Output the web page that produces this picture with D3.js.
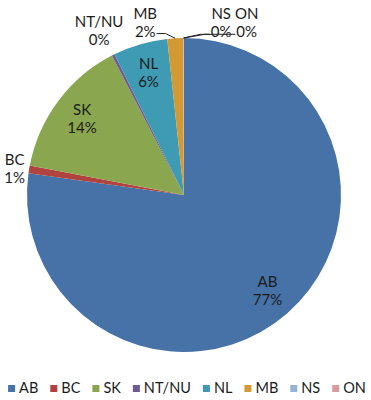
<!DOCTYPE html>
<html>
<head>
<meta charset="utf-8">
<script src="https://cdn.jsdelivr.net/npm/d3@7"></script>
<style>
 body { margin:0; background:#fff; }
 svg text { font-family:"Lato", sans-serif; fill:#1c1c1c; }
</style>
</head>
<body>
<div class="chart"></div>
<script>
 // shares by province (percent of total)
 var categories = ["AB","BC","SK","NT/NU","NL","MB","NS","ON"];
 var shares = [77.2, 0.8, 14.4, 0.3, 5.6, 1.6, 0.05, 0.05];
 var colors = ["#4672A7","#B0433F","#8AA64F","#6E5B95","#3F9AB3","#D39A34","#94B2D6","#D69B9A"];

 // labels that sit outside the pie, nudged like the original
 var outside = {
   "BC":    {r:1.1,  dx:1,   dy:2},
   "NT/NU": {r:1.1,  dx:-7,  dy:-10},
   "MB":    {r:1.1,  dx:-29, dy:0,  lead:"right"},
   "NS":    {r:1.1,  dx:38,  dy:1,  lead:"left"},
   "ON":    {r:1.1,  dx:63,  dy:1,  lead:"left"}
 };

 var W = 371, H = 400, cx = 184, cy = 195, R = 157;

 var svg = d3.select(".chart").append("svg")
     .attr("width", W)
     .attr("height", H);

 var total = d3.sum(shares);
 var pie = d3.pie().sort(null).value(function(d){ return d; });
 var arcs = pie(shares);
 var arc = d3.arc().innerRadius(0).outerRadius(R);

 var g = svg.append("g").attr("transform", "translate(" + cx + "," + cy + ")");

 g.selectAll("path.slice")
   .data(arcs)
   .enter().append("path")
   .attr("class","slice")
   .attr("d", arc)
   .attr("fill", function(d,i){ return colors[i]; });

 function polar(a, r) { return [Math.sin(a)*r, -Math.cos(a)*r]; }

 arcs.forEach(function(d, i) {
   var name = categories[i];
   var pct = Math.round(d.value / total * 100) + "%";
   var mid = (d.startAngle + d.endAngle) / 2;
   var o = outside[name];
   var p;
   if (o) {
     p = polar(mid, R*o.r);
     p = [p[0] + o.dx, p[1] + o.dy];
   } else {
     p = polar(mid, R*0.81);
   }
   g.append("text")
     .attr("text-anchor","middle")
     .attr("x", p[0]).attr("y", p[1] - 4)
     .style("font-size","15px")
     .text(name);
   var t2 = g.append("text")
     .attr("text-anchor","middle")
     .attr("x", p[0]).attr("y", p[1] + 14)
     .style("font-size","15px")
     .text(pct);

   if (o && o.lead) {
     var w = t2.node().getComputedTextLength();
     var edge = polar(mid, R);
     var ly = p[1] + 11;
     var endX = o.lead == "right" ? p[0] + w/2 + 1 : p[0] - w/2 - 1;
     var knee = o.lead == "right" ? endX + 9 : (name == "NS" ? endX - 9 : edge[0] + 21);
     var line = d3.line();
     g.append("path")
      .attr("d", line([edge, [knee, ly], [endX, ly]]))
      .attr("fill","none")
      .attr("stroke","#222")
      .attr("stroke-width",1);
   }
 });

 // legend
 var leg = svg.append("g");
 var x = 0;
 categories.forEach(function(c, i) {
   var item = leg.append("g").attr("transform","translate(" + x + ",0)");
   item.append("rect")
     .attr("x",0).attr("y",-8)
     .attr("width",7).attr("height",7)
     .attr("fill", colors[i]);
   var tx = item.append("text")
     .attr("x",11).attr("y",0)
     .style("font-size","14.5px")
     .text(c);
   x += 11 + tx.node().getComputedTextLength() + 12;
 });
 var legW = x - 12;
 leg.attr("transform","translate(" + (187 - legW/2) + ",393)");
</script>
</body>
</html>
